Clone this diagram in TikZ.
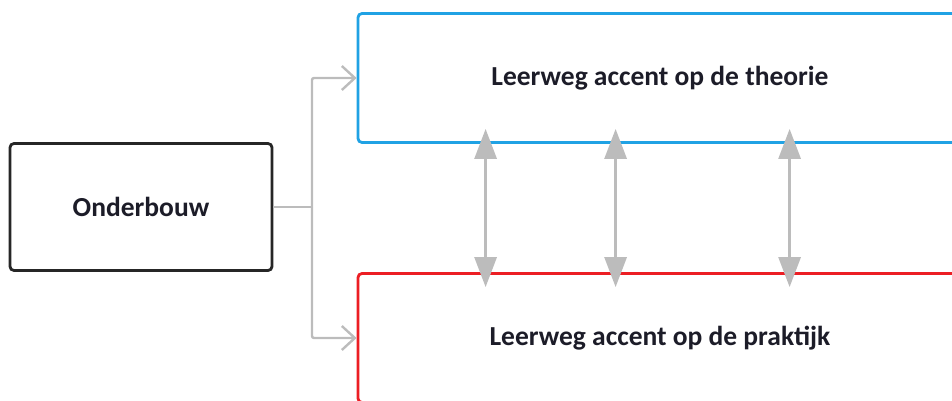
\documentclass[tikz,border=0pt]{standalone}
\usepackage{fontspec}
\setmainfont{Carlito}
\usetikzlibrary{arrows.meta}
\definecolor{theorieblue}{RGB}{32,162,228}
\definecolor{praktijkred}{RGB}{236,30,36}
\definecolor{linkgray}{RGB}{188,188,188}
\definecolor{textdark}{RGB}{28,28,40}
\begin{document}
\begin{tikzpicture}[x=1pt,y=-1pt,
  box/.style={draw,line width=2.8pt,rounded corners=4pt,inner sep=0pt,
    text=textdark,font=\fontsize{27.5}{32}\selectfont\bfseries},
  link/.style={draw=linkgray,line width=2.4pt,rounded corners=2pt},
  swap/.style={draw=linkgray,line width=3pt,
    {Triangle[length=30pt,width=22pt]}-{Triangle[length=30pt,width=22pt]}}]
\useasboundingbox (0,0) rectangle (952,401);

\node[box,draw=black!85,minimum width=262pt,minimum height=127pt] (onder) at (141,207) {Onderbouw};
\node[box,draw=theorieblue,minimum width=604pt,minimum height=129pt] (theorie) at (660,78) {Leerweg accent op de theorie};
\node[box,draw=praktijkred,minimum width=604pt,minimum height=129pt] (praktijk) at (660,338) {Leerweg accent op de praktijk};

% split to both routes
\coordinate (split) at (312,207);
\draw[link] (onder.east) -- (split);
\draw[link,-{Straight Barb[length=13pt,width=24pt]}] (split) |- (theorie.west);
\draw[link,-{Straight Barb[length=13pt,width=24pt]}] (split) |- (praktijk.west);

% switching between routes
\foreach \dx in {129,259,433}
  \draw[swap] ([shift={(\dx,-15)}]theorie.south west) -- ([shift={(\dx,15)}]praktijk.north west);
\end{tikzpicture}
\end{document}
